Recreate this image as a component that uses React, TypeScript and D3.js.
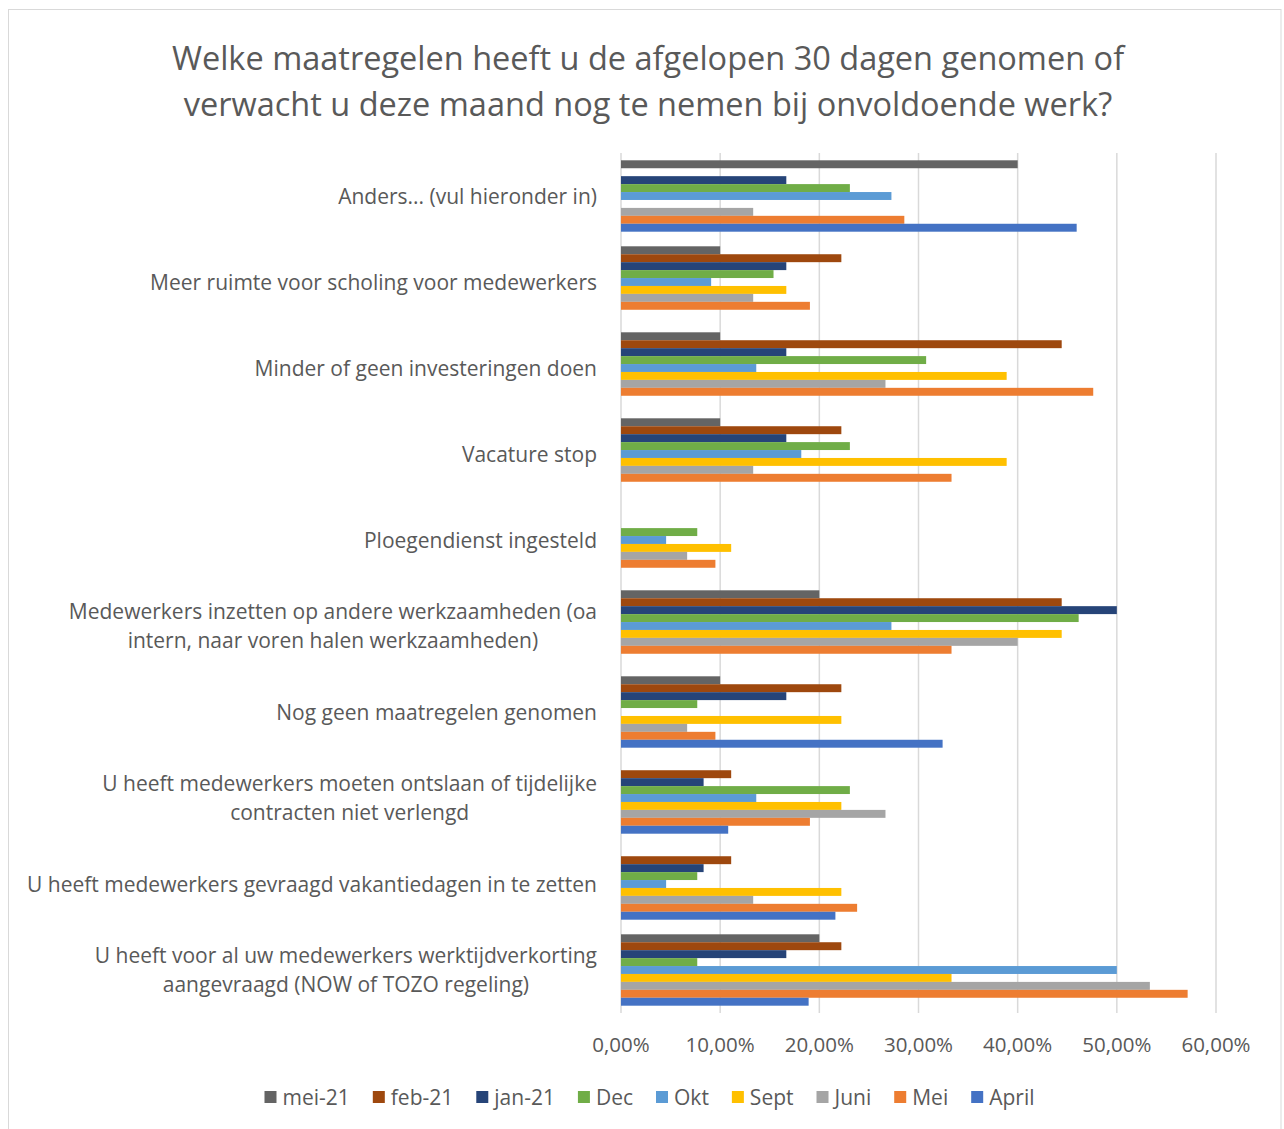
import React, { useEffect, useRef } from "react";
import * as d3 from "d3";

const titleLines = [
  "Welke maatregelen heeft u de afgelopen 30 dagen genomen of",
  "verwacht u deze maand nog te nemen bij onvoldoende werk?",
];

const categories = [
  "Anders... (vul hieronder in)",
  "Meer ruimte voor scholing voor medewerkers",
  "Minder of geen investeringen doen",
  "Vacature stop",
  "Ploegendienst ingesteld",
  "Medewerkers inzetten op andere werkzaamheden (oa intern, naar voren halen werkzaamheden)",
  "Nog geen maatregelen genomen",
  "U heeft medewerkers moeten ontslaan of tijdelijke contracten niet verlengd",
  "U heeft medewerkers gevraagd vakantiedagen in te zetten",
  "U heeft voor al uw medewerkers werktijdverkorting aangevraagd (NOW of TOZO regeling)",
];

const categoryLines = [
  ["Anders... (vul hieronder in)"],
  ["Meer ruimte voor scholing voor medewerkers"],
  ["Minder of geen investeringen doen"],
  ["Vacature stop"],
  ["Ploegendienst ingesteld"],
  ["Medewerkers inzetten op andere werkzaamheden (oa", "intern, naar voren halen werkzaamheden)"],
  ["Nog geen maatregelen genomen"],
  ["U heeft medewerkers moeten ontslaan of tijdelijke", "contracten niet verlengd"],
  ["U heeft medewerkers gevraagd vakantiedagen in te zetten"],
  ["U heeft voor al uw medewerkers werktijdverkorting", "aangevraagd (NOW of TOZO regeling)"],
];

const seriesNames = ["mei-21", "feb-21", "jan-21", "Dec", "Okt", "Sept", "Juni", "Mei", "April"];
const seriesColors = ["#646464", "#9E480E", "#264478", "#70AD47", "#5B9BD5", "#FFC000", "#A5A5A5", "#ED7D31", "#4472C4"];

const mei21 = [40, 10, 10, 10, 0, 20, 10, 0, 0, 20];
const feb21 = [0, 22.22, 44.44, 22.22, 0, 44.44, 22.22, 11.11, 11.11, 22.22];
const jan21 = [16.67, 16.67, 16.67, 16.67, 0, 50, 16.67, 8.33, 8.33, 16.67];
const dec = [23.08, 15.38, 30.77, 23.08, 7.69, 46.15, 7.69, 23.08, 7.69, 7.69];
const okt = [27.27, 9.09, 13.64, 18.18, 4.55, 27.27, 0, 13.64, 4.55, 50];
const sept = [0, 16.67, 38.89, 38.89, 11.11, 44.44, 22.22, 22.22, 22.22, 33.33];
const juni = [13.33, 13.33, 26.67, 13.33, 6.67, 40, 6.67, 26.67, 13.33, 53.33];
const mei = [28.57, 19.05, 47.62, 33.33, 9.52, 33.33, 9.52, 19.05, 23.81, 57.14];
const april = [45.95, 0, 0, 0, 0, 0, 32.43, 10.81, 21.62, 18.92];

const seriesValues = [mei21, feb21, jan21, dec, okt, sept, juni, mei, april];
const xTicks = [0, 10, 20, 30, 40, 50, 60];

const W = 1284;
const H = 1129;
const FONT = "'Open Sans', sans-serif";
const TEXT = "#595959";

export default function App() {
  const ref = useRef<SVGSVGElement | null>(null);

  useEffect(() => {
    const svg = d3.select(ref.current);
    svg.selectAll("*").remove();

    const plotLeft = 621, plotRight = 1216, plotTop = 153, plotBottom = 1013;

    const x = d3.scaleLinear().domain([0, 60]).range([plotLeft, plotRight]);
    const y0 = d3.scaleBand<string>().domain(categories).range([plotTop, plotBottom]).padding(0);
    const y1 = d3.scaleBand<string>().domain(seriesNames).range([0, y0.bandwidth()]).paddingInner(0).paddingOuter(0.92);

    svg.append("rect")
      .attr("x", 8.5).attr("y", 9.5).attr("width", 1272.5).attr("height", 1130)
      .attr("fill", "#fff").attr("stroke", "#d9d9d9").attr("stroke-width", 1);

    // title
    const title = svg.append("text")
      .attr("font-family", FONT).attr("font-size", 32.5).attr("fill", TEXT).attr("text-anchor", "middle");
    titleLines.forEach((t, i) => {
      title.append("tspan").attr("x", 648).attr("y", 70 + i * 46).text(t);
    });

    // gridlines
    svg.append("g").selectAll("line").data(xTicks).join("line")
      .attr("x1", d => x(d)).attr("x2", d => x(d))
      .attr("y1", plotTop).attr("y2", plotBottom)
      .attr("stroke", "#d9d9d9").attr("stroke-width", 1.5);

    // bars
    const groups = svg.append("g").selectAll("g").data(categories).join("g")
      .attr("transform", d => `translate(0,${y0(d)})`);
    groups.each(function (cat, ci) {
      d3.select(this).selectAll("rect").data(seriesNames).join("rect")
        .attr("x", x(0))
        .attr("y", s => y1(s)!)
        .attr("height", y1.bandwidth())
        .attr("width", (s, si) => Math.max(0, x(seriesValues[si][ci]) - x(0)))
        .attr("fill", (s, si) => seriesColors[si]);
    });

    // category labels
    const labelRight = 597;
    categoryLines.forEach((lines, ci) => {
      const cy = y0(categories[ci])! + y0.bandwidth() / 2;
      const g = svg.append("text")
        .attr("font-family", FONT).attr("font-size", 21).attr("fill", TEXT).attr("text-anchor", "middle");
      const lh = 29;
      const spans = lines.map((l, li) =>
        g.append("tspan").attr("y", cy + 7.5 + (li - (lines.length - 1) / 2) * lh).text(l)
      );
      const maxW = Math.max(...spans.map(s => (s.node() as SVGTSpanElement).getComputedTextLength()));
      spans.forEach(s => s.attr("x", labelRight - maxW / 2));
    });

    // x axis labels
    svg.append("g").selectAll("text").data(xTicks).join("text")
      .attr("x", d => x(d)).attr("y", 1051.5)
      .attr("text-anchor", "middle").attr("font-family", FONT).attr("font-size", 20.5).attr("fill", TEXT)
      .text(d => d3.format(".2f")(d).replace(".", ",") + "%");

    // legend
    const leg = svg.append("g");
    const items = seriesNames.map((n, i) => {
      const g = leg.append("g");
      g.append("rect").attr("width", 12).attr("height", 12).attr("y", 1091).attr("fill", seriesColors[i]);
      const t = g.append("text").attr("x", 18).attr("y", 1104.5)
        .attr("font-family", FONT).attr("font-size", 21).attr("fill", TEXT).text(n);
      const w = 18 + (t.node() as SVGTextElement).getComputedTextLength();
      return { g, w };
    });
    const gap = 23;
    const total = items.reduce((a, it) => a + it.w, 0) + gap * (items.length - 1);
    let cx = 649.5 - total / 2;
    items.forEach(it => {
      it.g.attr("transform", `translate(${cx},0)`);
      cx += it.w + gap;
    });
  }, []);

  return (
    <svg ref={ref} width={W} height={H}
      style={{ position: "absolute", left: 0, top: 0, background: "#fff" }} />
  );
}
